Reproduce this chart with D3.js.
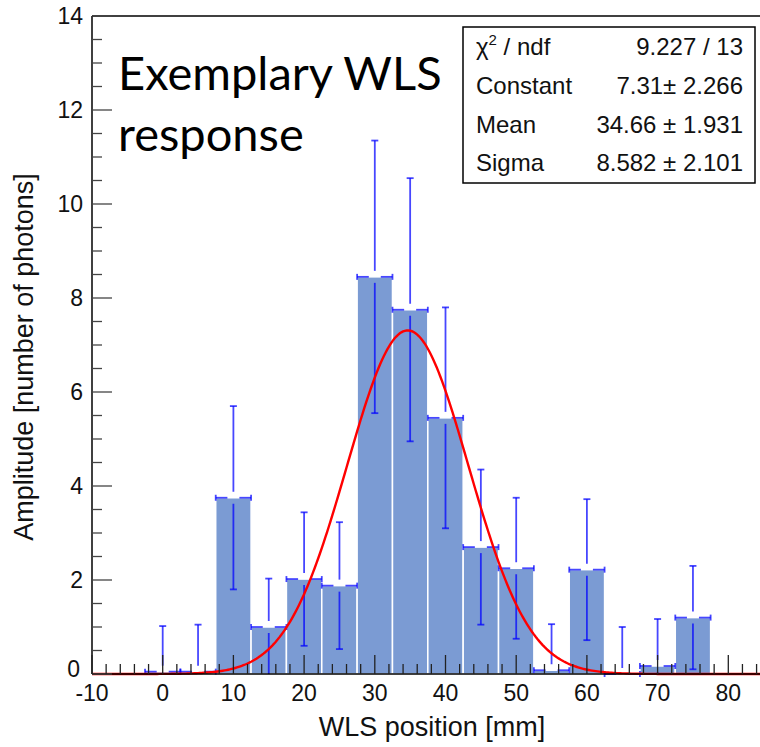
<!DOCTYPE html>
<html>
<head>
<meta charset="utf-8">
<script src="https://cdn.jsdelivr.net/npm/d3@7"></script>
<style>
  body { margin: 0; background: #fff; }
  svg { display: block; }
</style>
</head>
<body>
<div id="chart"></div>
<script>
// histogram bins (centre in mm), content and error
let binCenters = [0, 5, 10, 15, 20, 25, 30, 35, 40, 45, 50, 55, 60, 65, 70, 75];
let binValues  = [0.05, 0.05, 3.75, 1.0, 2.02, 1.88, 8.45, 7.75, 5.45, 2.7, 2.25, 0.08, 2.22, 0.0, 0.17, 1.2];
let binErrors  = [0.97, 1.0, 1.95, 1.03, 1.42, 1.35, 2.9, 2.8, 2.35, 1.65, 1.5, 0.98, 1.5, 1.0, 1.0, 1.1];
let binWidth = 5;

// gaussian fit parameters (from stats box)
let fitParams = [7.31, 34.66, 8.582];
let statLabels = ["χ2 / ndf", "Constant", "Mean", "Sigma"];
let statValues = ["9.227 / 13", "7.31\u00b1 2.266", "34.66 \u00b1 1.931", "8.582 \u00b1 2.101"];

let xTicks = [-10, 0, 10, 20, 30, 40, 50, 60, 70, 80];
let yTicks = [0, 2, 4, 6, 8, 10, 12, 14];

let W = 760, H = 747;
let padLeft = 92, padTop = 16, axisY = 674;

let svg = d3.select("#chart").append("svg")
  .attr("width", W)
  .attr("height", H)
  .style("font-family", "'Liberation Sans', Arial, sans-serif");

let xScale = d3.scaleLinear().domain([-10, 90]).range([padLeft, padLeft + 100 * 7.07]);
let yScale = d3.scaleLinear().domain([0, 14]).range([axisY, padTop]);

let plot = svg.append("g");

// bars
plot.selectAll(".bar")
  .data(binCenters.map((c, i) => ({c: c, v: binValues[i], e: binErrors[i]})).filter(d => d.v > 0))
  .enter()
  .append("rect")
  .attr("class", "bar")
  .attr("x", d => xScale(d.c - binWidth / 2))
  .attr("width", d => xScale(d.c + binWidth / 2) - xScale(d.c - binWidth / 2))
  .attr("y", d => yScale(d.v))
  .attr("height", d => yScale(0) - yScale(d.v))
  .attr("fill", "#7b9bd3")
  .attr("stroke", "#fff")
  .attr("stroke-width", 1.5);

// error bars
let errColor = "#0000ff";
let gap = 6;
let errs = plot.append("g")
  .attr("stroke", errColor)
  .attr("stroke-opacity", 0.72)
  .attr("stroke-width", 1.8)
  .attr("fill", "none");

binCenters.forEach(function(c, i){
  let v = binValues[i], e = binErrors[i];
  if (v == 0 && e == 0) return;
  let cx = xScale(c);
  let yv = yScale(v);
  let yTop = yScale(v + e);
  let yBot = yScale(Math.max(0, v - e));
  let x0 = xScale(c - binWidth / 2), x1 = xScale(c + binWidth / 2);
  // vertical with gap around marker
  if (yv - gap > yTop) errs.append("line").attr("x1", cx).attr("x2", cx).attr("y1", yTop).attr("y2", yv - gap);
  if (yv + gap < yBot) errs.append("line").attr("x1", cx).attr("x2", cx).attr("y1", yv + gap).attr("y2", yBot);
  // caps
  errs.append("line").attr("x1", cx - 3.5).attr("x2", cx + 3.5).attr("y1", yTop).attr("y2", yTop);
  if (v - e > 0) errs.append("line").attr("x1", cx - 3.5).attr("x2", cx + 3.5).attr("y1", yBot).attr("y2", yBot);
  // horizontal bin width
  errs.append("line").attr("x1", x0).attr("x2", cx - gap).attr("y1", yv).attr("y2", yv);
  errs.append("line").attr("x1", cx + gap).attr("x2", x1).attr("y1", yv).attr("y2", yv);
  errs.append("line").attr("x1", x0).attr("x2", x0).attr("y1", yv - 3).attr("y2", yv + 3);
  errs.append("line").attr("x1", x1).attr("x2", x1).attr("y1", yv - 3).attr("y2", yv + 3);
});

// fit curve
let fitX = d3.range(-10, 90.01, 0.25);
let gaus = x => fitParams[0] * Math.exp(-0.5 * Math.pow((x - fitParams[1]) / fitParams[2], 2));
let line = d3.line().x(d => xScale(d)).y(d => yScale(gaus(d)));
plot.append("path")
  .datum(fitX)
  .attr("d", line)
  .attr("fill", "none")
  .attr("stroke", "#ff0000")
  .attr("stroke-width", 2.4);

// frame
svg.append("line").attr("x1", padLeft).attr("x2", W).attr("y1", padTop).attr("y2", padTop)
  .attr("stroke", "#000").attr("stroke-width", 1.5);
svg.append("line").attr("x1", padLeft).attr("x2", padLeft).attr("y1", padTop).attr("y2", axisY)
  .attr("stroke", "#000").attr("stroke-width", 1.5);
svg.append("line").attr("x1", padLeft).attr("x2", W).attr("y1", axisY).attr("y2", axisY)
  .attr("stroke", "#000").attr("stroke-width", 1.5);

// y axis ticks (inside)
let yMinor = d3.range(0, 14.01, 0.5);
svg.append("g").selectAll("line").data(yMinor).enter().append("line")
  .attr("x1", padLeft)
  .attr("x2", d => padLeft + (d % 2 == 0 ? 20 : 10))
  .attr("y1", d => yScale(d)).attr("y2", d => yScale(d))
  .attr("stroke", "#444").attr("stroke-width", 1.3);
svg.append("g").selectAll("text").data(yTicks).enter().append("text")
  .attr("x", d => d == 0 ? 80 : 83)
  .attr("y", d => yScale(d) + (d == 0 ? 3 : 8))
  .attr("text-anchor", "end")
  .attr("font-size", 23)
  .attr("fill", "#111")
  .text(d => d);

// x axis ticks (inside, pointing up)
let xMinor = d3.range(-10, 86.01, 2);
svg.append("g").selectAll("line").data(xMinor).enter().append("line")
  .attr("x1", d => xScale(d)).attr("x2", d => xScale(d))
  .attr("y1", axisY)
  .attr("y2", d => axisY - (d % 10 == 0 ? 19 : 10))
  .attr("stroke", "#222").attr("stroke-width", 1.3);
svg.append("g").selectAll("text").data(xTicks).enter().append("text")
  .attr("x", d => xScale(d))
  .attr("y", 701)
  .attr("text-anchor", "middle")
  .attr("font-size", 23)
  .attr("fill", "#111")
  .text(d => d);

// axis titles
svg.append("text")
  .attr("x", 432).attr("y", 736)
  .attr("text-anchor", "middle")
  .attr("font-size", 27)
  .attr("fill", "#111")
  .text("WLS position [mm]");
svg.append("text")
  .attr("transform", "translate(33,357) rotate(-90)")
  .attr("text-anchor", "middle")
  .attr("font-size", 27)
  .attr("fill", "#111")
  .text("Amplitude [number of photons]");

// overlay text
let note = svg.append("text")
  .attr("font-family", "Lato, 'Open Sans', sans-serif")
  .attr("font-size", 47)
  .attr("fill", "#000");
note.append("tspan").attr("x", 118).attr("y", 90).text("Exemplary WLS");
note.append("tspan").attr("x", 118).attr("y", 151).text("response");

// stats box
svg.append("rect")
  .attr("x", 463).attr("y", 27).attr("width", 292).attr("height", 156)
  .attr("fill", "#fff").attr("stroke", "#000").attr("stroke-width", 1.5);
let rowY = [55, 94, 133, 171];
statLabels.forEach(function(lbl, i){
  let t = svg.append("text")
    .attr("x", 476).attr("y", rowY[i])
    .attr("font-size", 24).attr("fill", "#111");
  if (i == 0) {
    t.append("tspan").text("\u03c7");
    t.append("tspan").attr("font-size", 15).attr("dy", -10).text("2");
    t.append("tspan").attr("dy", 10).text(" / ndf");
  } else {
    t.text(lbl);
  }
  svg.append("text")
    .attr("x", 743).attr("y", rowY[i])
    .attr("text-anchor", "end")
    .attr("font-size", 24).attr("fill", "#111")
    .text(statValues[i]);
});
</script>
</body>
</html>
